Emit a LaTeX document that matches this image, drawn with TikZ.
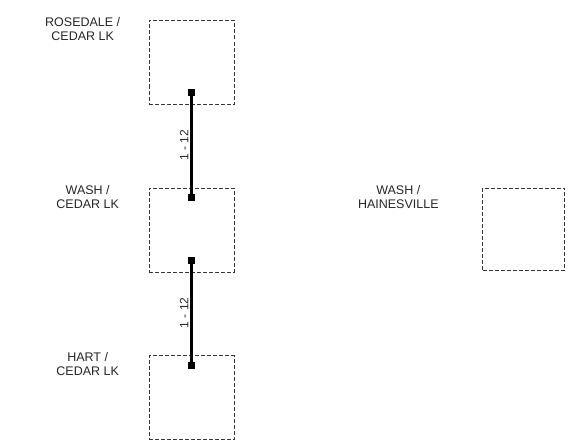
\documentclass[tikz,border=0pt]{standalone}
\usepackage{fontspec}
\setmainfont{Liberation Sans}
\usetikzlibrary{positioning}

\begin{document}
\begin{tikzpicture}[x=1pt,y=1pt,
  station/.style={draw=black!80,dash pattern=on 4pt off 2pt,line width=.6pt,
    minimum width=85pt,minimum height=84pt,inner sep=0pt},
  stub/.style={fill=black,minimum size=7pt,inner sep=0pt},
  link/.style={draw=black,line width=2.2pt},
  site/.style={anchor=north,align=center,inner sep=0pt,text=black!85,
    font=\fontsize{12.5}{14}\selectfont},
  count/.style={font=\fontsize{12}{14}\selectfont,inner sep=2pt,text=black!85}
]
\useasboundingbox (0,0) rectangle (588,-444);
\node[station] (rosedale) at (191.5,-62.5) {};
\node[station,below=83pt of rosedale] (washcedar) {};
\node[station,below=83pt of washcedar] (hart) {};
\node[station,right=248pt of washcedar,minimum width=82pt,minimum height=82pt,
  yshift=1pt] (washhaines) {};
% names
\node[site] (rosedaleLbl) at ([xshift=-66pt,yshift=3pt]rosedale.north west) {ROSEDALE /\\CEDAR LK};
\node[site] (washcedarLbl) at ([xshift=-61pt,yshift=3pt]washcedar.north west) {WASH /\\CEDAR LK};
\node[site] (hartLbl) at ([xshift=-61pt,yshift=3pt]hart.north west) {HART /\\CEDAR LK};
\node[site] (washhainesLbl) at ([xshift=-84pt,yshift=3pt]washhaines.north west) {WASH /\\HAINESVILLE};
% links
\node[stub] (rosedaleS) at ([yshift=12pt]rosedale.south) {};
\node[stub] (washcedarN) at ([yshift=-10pt]washcedar.north) {};
\node[stub] (washcedarS) at ([yshift=12pt]washcedar.south) {};
\node[stub] (hartN) at ([yshift=-10pt]hart.north) {};
\draw[link] (washcedarN.center) -- node[count,sloped,above] {1 - 12} (rosedaleS.center);
\draw[link] (hartN.center) -- node[count,sloped,above] {1 - 12} (washcedarS.center);
\end{tikzpicture}
\end{document}
